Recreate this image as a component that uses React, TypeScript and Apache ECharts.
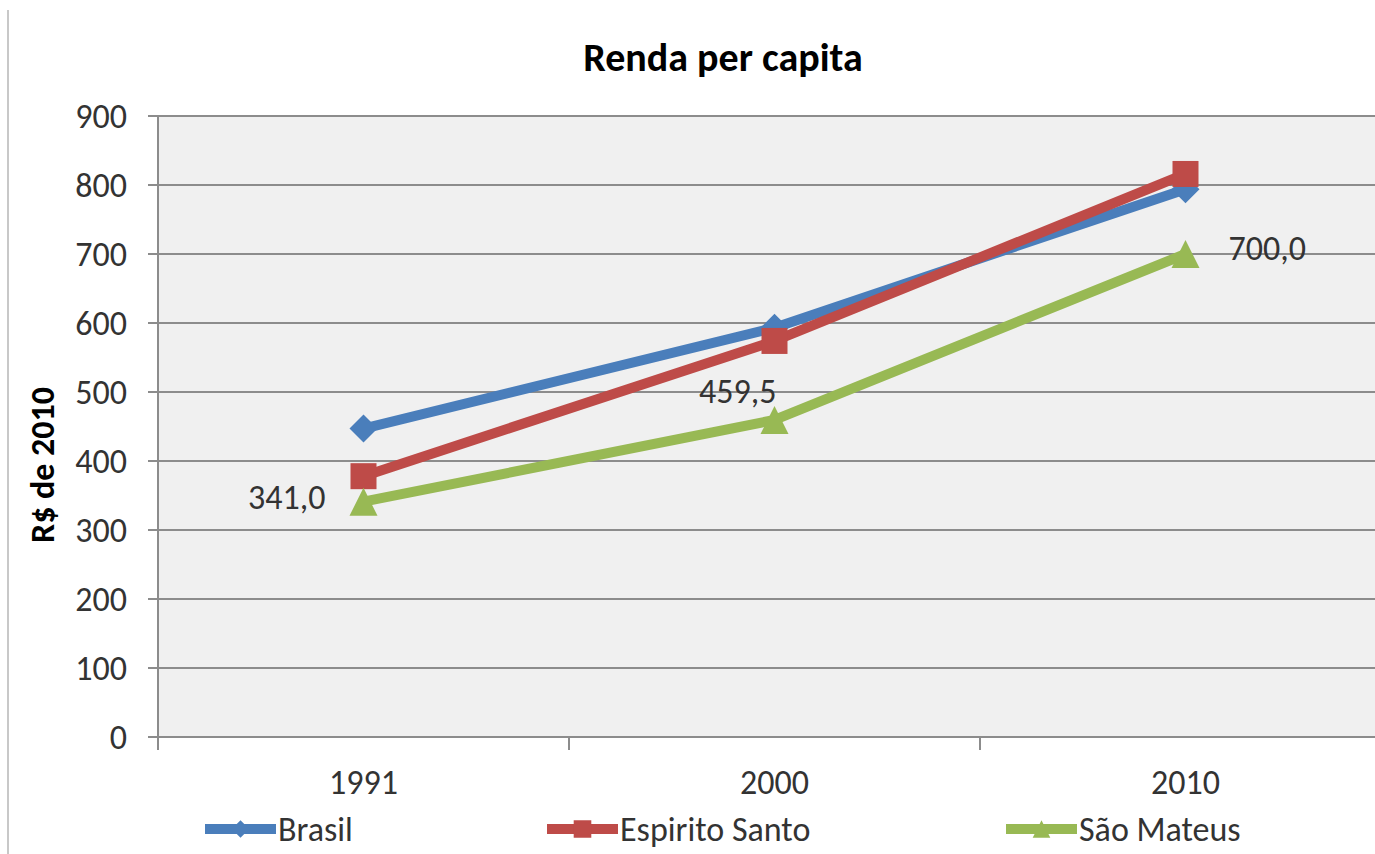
import React, { useEffect, useRef } from "react";
import * as echarts from "echarts";

const categories = ["1991", "2000", "2010"];
const brasil = [447, 593, 794];
const espiritoSanto = [378, 574, 816];
const saoMateus = [341.0, 459.5, 700.0];
const yTicks = { min: 0, max: 900, interval: 100 };
const titleText = "Renda per capita";
const yAxisTitle = "R$ de 2010";

const FONT = "Carlito, Calibri, Lato, 'Open Sans', sans-serif";
const fmt = (v: number) => v.toFixed(1).replace(".", ",");

export default function App() {
  const ref = useRef<HTMLDivElement>(null);
  useEffect(() => {
    if (!ref.current) return;
    const chart = echarts.init(ref.current, undefined, { renderer: "svg" });
    const blue = "#4a7ebb";
    const red = "#be4b48";
    const green = "#98b954";
    const labelStyle = { color: "#333", fontSize: 34, fontFamily: FONT };
    const smLabels = [
      { position: "left", distance: 24, offset: [0, -4] },
      { position: "left", distance: -16, offset: [0, -28] },
      { position: "right", distance: 29, offset: [0, -6] },
    ];
    const legendBase = {
      top: 812,
      padding: 0,
      itemWidth: 71,
      itemHeight: 22,
      itemGap: 4,
      lineStyle: { width: 10 },
      textStyle: { fontSize: 34, color: "#333", fontFamily: FONT, padding: [0, 0, 0, -3] },
    };
    chart.setOption({
      animation: false,
      backgroundColor: "#fff",
      textStyle: { fontFamily: FONT },
      grid: {
        left: 158,
        top: 116,
        width: 1233,
        height: 621,
        show: true,
        backgroundColor: "#f0f0f0",
        borderWidth: 0,
        containLabel: false,
      },
      legend: [
        { ...legendBase, left: 200, data: ["Brasil"] },
        { ...legendBase, left: 542, data: ["Espirito Santo"] },
        { ...legendBase, left: 1001, data: ["São Mateus"] },
      ],
      xAxis: {
        type: "category",
        data: categories,
        boundaryGap: true,
        axisLine: { show: true, lineStyle: { color: "#8c8c8c", width: 2 } },
        axisTick: { show: true, length: 13, lineStyle: { color: "#8c8c8c", width: 2 } },
        axisLabel: { margin: 28, fontSize: 34, color: "#333", fontFamily: FONT },
        splitLine: { show: false },
      },
      yAxis: {
        type: "value",
        min: yTicks.min,
        max: yTicks.max,
        interval: yTicks.interval,
        axisLine: { show: true, lineStyle: { color: "#8c8c8c", width: 2 } },
        axisTick: { show: true, length: 10, lineStyle: { color: "#8c8c8c", width: 2 } },
        axisLabel: { margin: 31, fontSize: 34, color: "#333", fontFamily: FONT },
        splitLine: { show: true, lineStyle: { color: "#8c8c8c", width: 2 } },
      },
      graphic: [
        {
          type: "line",
          shape: { x1: 8, y1: 10, x2: 8, y2: 854 },
          style: { stroke: "#c8c8c8", lineWidth: 2 },
        },
        {
          type: "text",
          x: 723,
          y: 57,
          style: {
            text: titleText,
            fontSize: 40,
            fontWeight: "bold",
            fontFamily: FONT,
            fill: "#000",
            textAlign: "center",
            textVerticalAlign: "middle",
          },
        },
        {
          type: "text",
          x: 42,
          y: 465,
          rotation: Math.PI / 2,
          style: {
            text: yAxisTitle,
            fontSize: 34,
            fontWeight: "bold",
            fontFamily: FONT,
            fill: "#000",
            textAlign: "center",
            textVerticalAlign: "middle",
          },
        },
      ],
      series: [
        {
          name: "Brasil",
          type: "line",
          data: brasil,
          symbol: "diamond",
          symbolSize: 28,
          lineStyle: { color: blue, width: 10 },
          itemStyle: { color: blue },
        },
        {
          name: "Espirito Santo",
          type: "line",
          data: espiritoSanto,
          symbol: "rect",
          symbolSize: 26,
          lineStyle: { color: red, width: 10 },
          itemStyle: { color: red },
        },
        {
          name: "São Mateus",
          type: "line",
          data: saoMateus.map((v, i) => ({
            value: v,
            label: {
              show: true,
              formatter: fmt(v),
              ...labelStyle,
              ...smLabels[i],
            },
          })),
          symbol: "triangle",
          symbolSize: 28,
          lineStyle: { color: green, width: 10 },
          itemStyle: { color: green },
        },
      ],
    });
    return () => chart.dispose();
  }, []);
  return (
    <div style={{ position: "fixed", left: 0, top: 0, width: 1375, height: 854, overflow: "hidden", background: "#fff" }}>
      <div ref={ref} style={{ width: 1400, height: 854 }} />
    </div>
  );
}
